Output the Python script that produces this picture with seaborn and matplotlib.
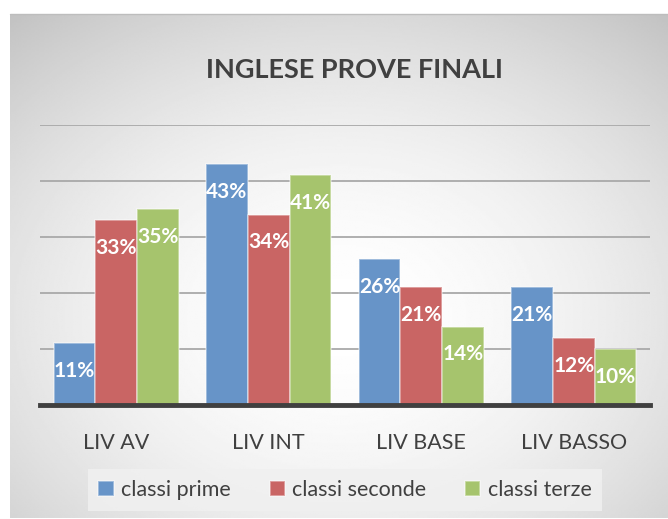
import numpy as np
import pandas as pd
import matplotlib.pyplot as plt
import seaborn as sns

# data
livelli = ["LIV AV", "LIV INT", "LIV BASE", "LIV BASSO"]
classi = ["classi prime", "classi seconde", "classi terze"]
prime = [11, 43, 26, 21]
seconde = [33, 34, 21, 12]
terze = [35, 41, 14, 10]
colori = ["#6794C8", "#C96564", "#A6C46D"]

df = pd.DataFrame({
    "livello": livelli * 3,
    "classe": np.repeat(classi, len(livelli)),
    "valore": prime + seconde + terze,
})

sns.set_theme(style="white")
plt.rcParams["font.family"] = ["Lato", "DejaVu Sans"]

W, H = 668, 519
fig = plt.figure(figsize=(W / 100, H / 100), dpi=100)
fig.patch.set_facecolor("white")

# gray radial-gradient panel behind the chart
bg = fig.add_axes([10 / W, 1 / H, 1 - 10 / W, (H - 15) / H])
yy, xx = np.mgrid[0:300, 0:400]
cx, cy = 200, 180
r = np.sqrt(((xx - cx) / 400) ** 2 + ((yy - cy) / 300) ** 2)
r = r / r.max()
shade = 1 - 0.24 * r ** 1.8
bg.imshow(shade, cmap="gray", vmin=0, vmax=1, aspect="auto",
          extent=[0, 1, 0, 1], origin="upper")
bg.set_axis_off()
fig.add_artist(plt.Line2D([10 / W, 1], [1 - 14 / H] * 2, color="#bdbdbd", lw=1))

ax = fig.add_axes([40 / W, 1 - 405 / H, 610 / W, 280 / H])
ax.set_facecolor("none")
sns.barplot(data=df, x="livello", y="valore", hue="classe", palette=colori,
            saturation=1, width=0.82, ax=ax, edgecolor=(1, 1, 1, 0.45),
            linewidth=1.2, zorder=3)

ax.set_ylim(0, 50)
ax.set_yticks([10, 20, 30, 40, 50])
ax.yaxis.grid(True, color="#a9a9a9", linewidth=1.3, zorder=0)
ax.tick_params(axis="y", left=False, labelleft=False)
ax.tick_params(axis="x", bottom=False, labelsize=15.5, colors="#404040", pad=14)
ax.set_xlabel("")
ax.set_ylabel("")
for s in ["top", "right", "left"]:
    ax.spines[s].set_visible(False)
ax.spines["bottom"].set_color("#404040")
ax.spines["bottom"].set_linewidth(3.5)
ax.spines["bottom"].set_zorder(5)

for cont in ax.containers:
    for bar in cont:
        h = bar.get_height()
        ax.annotate(f"{h:.0f}%", (bar.get_x() + bar.get_width() / 2, h),
                    xytext=(0, -20), textcoords="offset points",
                    ha="center", va="center", color="white",
                    fontsize=15, fontweight="bold", zorder=6)

fig.text(355 / W, 1 - 70 / H, "INGLESE PROVE FINALI", ha="center",
         va="center", fontsize=19.5, fontweight="bold", color="#404040")

handles, labels = ax.get_legend_handles_labels()
ax.legend_.remove()
leg = fig.legend(handles, labels, loc="center", ncol=3,
                 bbox_to_anchor=(345 / W, 1 - 490 / H), frameon=True,
                 fontsize=15.5, handlelength=0.7, handleheight=0.7,
                 handletextpad=0.35, columnspacing=1.8, borderpad=0.5,
                 borderaxespad=0, fancybox=False, labelcolor="#404040")
leg.get_frame().set_facecolor("#f0f0f0")
leg.get_frame().set_alpha(0.85)
leg.get_frame().set_linewidth(0)

fig.savefig("out.png", dpi=100)
